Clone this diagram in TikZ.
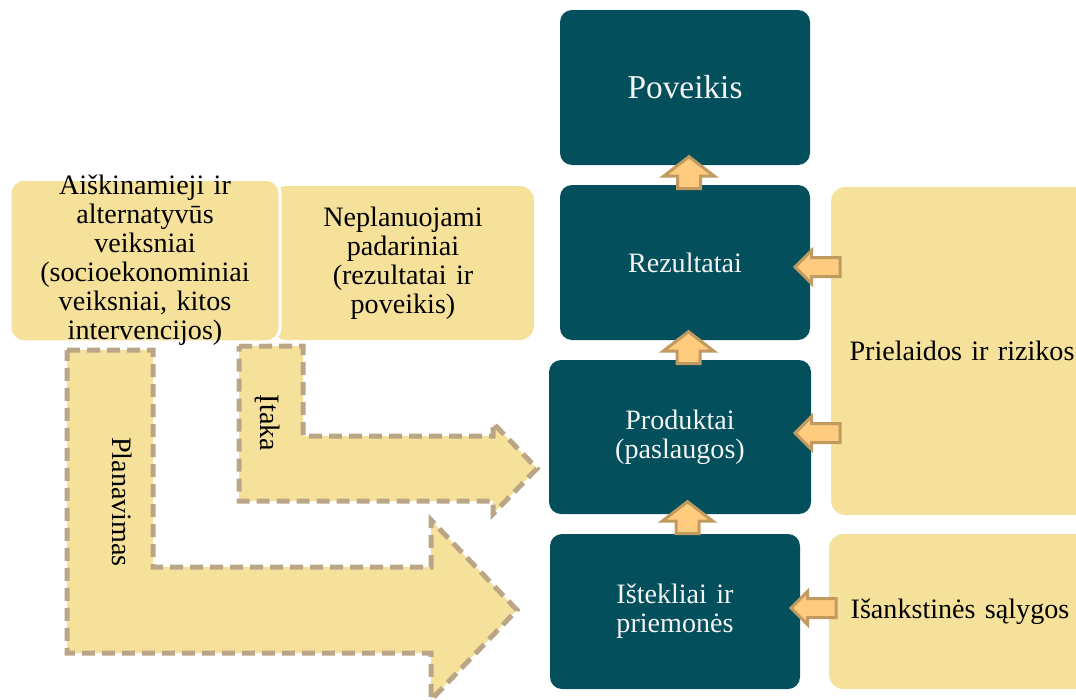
\documentclass[tikz,border=0pt]{standalone}
\usepackage{fontspec}
\setmainfont{Liberation Serif}
\usetikzlibrary{shapes.arrows, calc, positioning}
\newdimen\unitpx
\unitpx=0.02cm
\definecolor{stageteal}{HTML}{03505C}
\definecolor{stagetext}{HTML}{F4F4F4}
\definecolor{factoryellow}{HTML}{F5E199}
\definecolor{arrowfill}{HTML}{FECB7F}
\definecolor{arrowdraw}{HTML}{C09A5E}
\definecolor{dashtan}{HTML}{BAA687}
\tikzset{
	every node/.style={
		font=\fontsize{16}{16.5}\selectfont
	},
	stage/.style={
		shape=rectangle,
		fill=stageteal,
		text=stagetext,
		rounded corners=12\unitpx,
		minimum width=250\unitpx,
		minimum height=155\unitpx,
		text width=230\unitpx,
		text centered
	},
	factor/.style={
		shape=rectangle,
		fill=factoryellow,
		rounded corners=14\unitpx,
		text width=250\unitpx,
		text centered
	},
	uparrow/.style={
		shape=single arrow,
		shape border rotate=90,
		fill=arrowfill,
		draw=arrowdraw,
		line width=3\unitpx,
		inner sep=10\unitpx,
		minimum height=31\unitpx,
		single arrow head extend=14\unitpx,
		single arrow tip angle=105
	},
	leftarrow/.style={
		shape=single arrow,
		shape border rotate=180,
		fill=arrowfill,
		draw=arrowdraw,
		line width=3\unitpx,
		inner sep=8\unitpx,
		minimum height=45\unitpx,
		single arrow head extend=7\unitpx,
		single arrow tip angle=90
	},
	bigarrow/.style={
		fill=factoryellow,
		draw=dashtan,
		line width=5\unitpx,
		dash pattern=on 13\unitpx off 7\unitpx
	}
}

\begin{document}
\begin{tikzpicture}[x=0.02cm, y=-0.02cm]
\useasboundingbox (0,0) rectangle (1076,700);
\clip (0,0) rectangle (1076,700);

\draw [bigarrow] (67,350) -- (153,350) -- (153,567) -- (431,567) -- (431,520) -- (517,610)
	-- (431,700) -- (431,653) -- (67,653) -- cycle;
\draw [bigarrow] (239,346) -- (303,346) -- (303,436) -- (493,436) -- (493,423) -- (537,468.5)
	-- (493,514) -- (493,501) -- (239,501) -- cycle;
\node [rotate=-90] (plan) at (122,502) {Planavimas};
\node [rotate=-90] (itaka) at (267,423) {Įtaka};

\node [factor, minimum width=240\unitpx, minimum height=154\unitpx] (nepl) at (403,263) {Neplanuojami\\ padariniai\\ (rezultatai ir\\ poveikis)};
\node [factor, draw=white, line width=3\unitpx, inner ysep=-4\unitpx, minimum width=270\unitpx, minimum height=153\unitpx] (aisk) at (145,260.5) {Aiškinamieji ir\\ alternatyvūs\\ veiksniai\\ (socioekonominiai\\ veiksniai, kitos\\ intervencijos)};

\node [stage, font=\fontsize{19}{20}\selectfont] (pov) at (685,87.5) {Poveikis};
\node [stage] (rez) at (685,262.5) {Rezultatai};
\node [stage, minimum width=262\unitpx, minimum height=154\unitpx] (prod) at (680,437) {Produktai\\ (paslaugos)};
\node [stage] (ist) at (675,611.5) {Ištekliai ir\\ priemonės};

\node [factor, minimum width=248\unitpx, minimum height=328\unitpx] (priel) at (962,351) {Prielaidos ir rizikos};
\node [factor, minimum width=252\unitpx, minimum height=155\unitpx] (isank) at (960,611.5) {Išankstinės sąlygos};

\node [uparrow] (a1) at ($(pov.south)!0.5!(rez.north)+(4,2)$) {};
\node [uparrow] (a2) at ($(rez.south)!0.5!(prod.north)+(6,2)$) {};
\node [uparrow] (a3) at ($(prod.south)!0.5!(ist.north)+(10,-2)$) {};

\node [leftarrow] (l1) at ($(rez.east)+(12,4.5)$) {};
\node [leftarrow] (l2) at ($(prod.east)+(11,-4)$) {};
\node [leftarrow] (l3) at ($(ist.east)+(18,-3.5)$) {};

\end{tikzpicture}
\end{document}
